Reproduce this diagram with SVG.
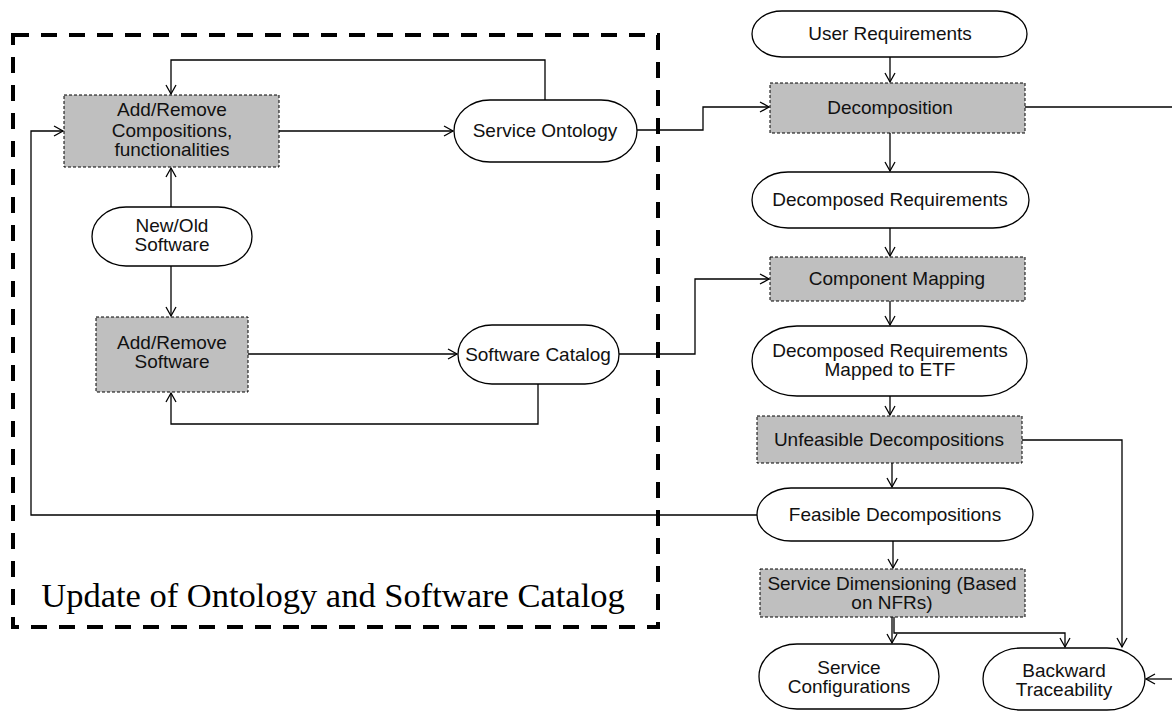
<svg xmlns="http://www.w3.org/2000/svg" width="1172" height="711" viewBox="0 0 1172 711">
<style>
.proc{fill:#bfbfbf;stroke:#000;stroke-width:1;stroke-dasharray:3,2}
.term{fill:#fff;stroke:#000;stroke-width:1.3}
.t{font-family:"Liberation Sans",Arial,sans-serif;font-size:19px;fill:#111;text-anchor:middle}
.c{fill:none;stroke:#000;stroke-width:1.3}
</style>
<defs>
<marker id="a" markerWidth="12" markerHeight="12" refX="10" refY="6" orient="auto" markerUnits="userSpaceOnUse">
<path d="M1,1 L10,6 L1,11" fill="none" stroke="#000" stroke-width="1.3"/>
</marker>
</defs>
<rect x="0" y="0" width="1172" height="711" fill="#fff"/>
<g id="container">
<rect x="13" y="35" width="645" height="592" fill="none" stroke="#000" stroke-width="4" stroke-dasharray="16,12"/>
<text x="333" y="607" font-family="'Liberation Serif','Times New Roman',serif" font-size="34.5" text-anchor="middle" fill="#000">Update of Ontology and Software Catalog</text>
</g>
<g id="connectors">
<path class="c" d="M545,100 V60 H171 V94" marker-end="url(#a)"/>
<path class="c" d="M279,131 H453" marker-end="url(#a)"/>
<path class="c" d="M637,130 H703 V107 H769" marker-end="url(#a)"/>
<path class="c" d="M171,207 V168" marker-end="url(#a)"/>
<path class="c" d="M171,266 V316" marker-end="url(#a)"/>
<path class="c" d="M248,354 H457" marker-end="url(#a)"/>
<path class="c" d="M538,384 V424 H171 V393" marker-end="url(#a)"/>
<path class="c" d="M619,354 H695 V279 H769" marker-end="url(#a)"/>
<path class="c" d="M757,515 H31 V131 H63" marker-end="url(#a)"/>
<path class="c" d="M890,57 V82" marker-end="url(#a)"/>
<path class="c" d="M1025,107 H1172"/>
<path class="c" d="M890,133 V171" marker-end="url(#a)"/>
<path class="c" d="M890,228 V256" marker-end="url(#a)"/>
<path class="c" d="M890,301 V325" marker-end="url(#a)"/>
<path class="c" d="M890,396 V415" marker-end="url(#a)"/>
<path class="c" d="M892,463 V487" marker-end="url(#a)"/>
<path class="c" d="M1022,440 H1122 V647" marker-end="url(#a)"/>
<path class="c" d="M893,541 V568" marker-end="url(#a)"/>
<path class="c" d="M892,617 V643" marker-end="url(#a)"/>
<path class="c" d="M894,617 V633 H1065 V647" marker-end="url(#a)"/>
<path class="c" d="M1172,679 H1146" marker-end="url(#a)"/>
</g>
<g id="n-addcomp">
<rect class="proc" x="64" y="95" width="215" height="72"/>
<text class="t" x="172" y="116">Add/Remove</text>
<text class="t" x="172" y="137">Compositions,</text>
<text class="t" x="172" y="156">functionalities</text>
</g>
<g id="n-ontology">
<rect class="term" x="454" y="100" width="183" height="62" rx="36" ry="31"/>
<text class="t" x="545" y="137">Service Ontology</text>
</g>
<g id="n-newold">
<rect class="term" x="92" y="207" width="160" height="59" rx="34" ry="29.5"/>
<text class="t" x="172" y="232">New/Old</text>
<text class="t" x="172" y="251">Software</text>
</g>
<g id="n-addsw">
<rect class="proc" x="96" y="317" width="152" height="75"/>
<text class="t" x="172" y="349">Add/Remove</text>
<text class="t" x="172" y="368">Software</text>
</g>
<g id="n-catalog">
<rect class="term" x="458" y="325" width="161" height="59" rx="34" ry="29.5"/>
<text class="t" x="538" y="361">Software Catalog</text>
</g>
<g id="n-userreq">
<rect class="term" x="752" y="11" width="275" height="46" rx="30" ry="23"/>
<text class="t" x="890" y="40">User Requirements</text>
</g>
<g id="n-decomp">
<rect class="proc" x="770" y="83" width="255" height="50"/>
<text class="t" x="890" y="114">Decomposition</text>
</g>
<g id="n-decreq">
<rect class="term" x="752" y="172" width="277" height="56" rx="36" ry="28"/>
<text class="t" x="890" y="206">Decomposed Requirements</text>
</g>
<g id="n-compmap">
<rect class="proc" x="770" y="257" width="255" height="44"/>
<text class="t" x="897" y="285">Component Mapping</text>
</g>
<g id="n-mapped">
<rect class="term" x="752" y="326" width="275" height="70" rx="45" ry="35"/>
<text class="t" x="890" y="357">Decomposed Requirements</text>
<text class="t" x="890" y="376">Mapped to ETF</text>
</g>
<g id="n-unfeasible">
<rect class="proc" x="757" y="416" width="265" height="47"/>
<text class="t" x="889" y="446">Unfeasible Decompositions</text>
</g>
<g id="n-feasible">
<rect class="term" x="757" y="488" width="276" height="53" rx="34" ry="26.5"/>
<text class="t" x="895" y="521">Feasible Decompositions</text>
</g>
<g id="n-dimensioning">
<rect class="proc" x="760" y="569" width="265" height="48"/>
<text class="t" x="892" y="590">Service Dimensioning (Based</text>
<text class="t" x="892" y="609">on NFRs)</text>
</g>
<g id="n-config">
<rect class="term" x="759" y="644" width="180" height="65" rx="38" ry="32.5"/>
<text class="t" x="849" y="674">Service</text>
<text class="t" x="849" y="693">Configurations</text>
</g>
<g id="n-trace">
<rect class="term" x="983" y="648" width="162" height="62" rx="38" ry="31"/>
<text class="t" x="1064" y="677">Backward</text>
<text class="t" x="1064" y="696">Traceability</text>
</g>
</svg>
